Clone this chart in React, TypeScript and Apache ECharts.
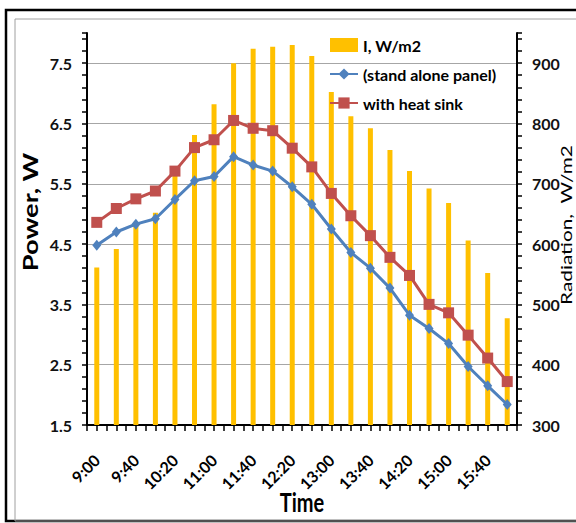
import React, { useEffect, useRef } from "react";
import * as echarts from "echarts";

const times = ["9:00", "9:20", "9:40", "10:00", "10:20", "10:40", "11:00", "11:20", "11:40", "12:00", "12:20", "12:40", "13:00", "13:20", "13:40", "14:00", "14:20", "14:40", "15:00", "15:20", "15:40", "16:00"];
const radiation = [561, 592, 630, 652, 725, 781, 832, 900, 924, 927, 930, 912, 852, 812, 792, 756, 721, 692, 668, 606, 552, 477];
const standAlone = [4.48, 4.7, 4.83, 4.92, 5.24, 5.55, 5.62, 5.95, 5.81, 5.71, 5.45, 5.16, 4.75, 4.36, 4.1, 3.77, 3.32, 3.1, 2.85, 2.47, 2.15, 1.84];
const heatSink = [4.86, 5.09, 5.25, 5.38, 5.71, 6.1, 6.23, 6.55, 6.42, 6.38, 6.09, 5.78, 5.34, 4.97, 4.64, 4.28, 3.98, 3.5, 3.36, 2.99, 2.61, 2.22];
const seriesNames = ["I, W/m2", "(stand alone panel)", "with heat sink"];
const powerRange = [1.5, 8];
const radiationRange = [300, 950];

const FONT = "Lato, 'Open Sans', sans-serif";

export default function App() {
  const ref = useRef<HTMLDivElement>(null);
  useEffect(() => {
    if (!ref.current) return;
    const chart = echarts.init(ref.current, null, { renderer: "svg" });
    const halfTicks = times.length * 2;
    chart.setOption({
      animation: false,
      backgroundColor: "#ffffff",
      textStyle: { fontFamily: FONT },
      grid: { left: 87, right: 59, top: 33, bottom: 98, containLabel: false },
      legend: {
        orient: "vertical",
        left: 324,
        top: 32,
        itemWidth: 28,
        itemHeight: 14,
        itemGap: 13,
        textStyle: { fontFamily: FONT, fontSize: 16, fontWeight: "bold", color: "#000" },
        data: [
          { name: seriesNames[0], icon: "rect" },
          { name: seriesNames[1] },
          { name: seriesNames[2] },
        ],
      },
      xAxis: [
        {
          type: "category",
          data: times,
          boundaryGap: true,
          axisLine: { lineStyle: { color: "#000", width: 2 } },
          axisTick: { show: false },
          axisLabel: {
            interval: 1,
            rotate: 45,
            margin: 32,
            fontFamily: FONT,
            fontSize: 16,
            fontWeight: "bold",
            color: "#000",
          },
          splitLine: { show: false },
        },
        {
          type: "value",
          min: 0,
          max: halfTicks,
          interval: 1,
          position: "bottom",
          axisLine: { show: false },
          axisTick: { show: true, length: 6, lineStyle: { color: "#000", width: 1.5 } },
          axisLabel: { show: false },
          splitLine: { show: false },
        },
      ],
      yAxis: [
        {
          type: "value",
          position: "left",
          min: powerRange[0],
          max: powerRange[1],
          interval: 0.5,
          axisLine: { show: true, lineStyle: { color: "#000", width: 2 } },
          axisTick: { show: false },
          splitLine: { show: false },
          axisLabel: {
            margin: 15,
            fontFamily: FONT,
            fontSize: 16,
            fontWeight: "bold",
            color: "#111",
            formatter: (v: number) => {
              const k = v - powerRange[0];
              if (Math.abs(k - Math.round(k)) < 1e-6 && v < 7.9) return v.toFixed(1);
              return "";
            },
          },
        },
        {
          type: "value",
          position: "right",
          min: radiationRange[0],
          max: radiationRange[1],
          interval: 100,
          axisLine: { show: true, lineStyle: { color: "#000", width: 2 } },
          axisTick: { show: false },
          splitLine: { show: true, showMinLine: false, showMaxLine: false, lineStyle: { color: "#a6a6a6", width: 1 } },
          axisLabel: {
            margin: 15,
            fontFamily: FONT,
            fontSize: 16,
            fontWeight: "bold",
            color: "#111",
            showMaxLabel: false,
            formatter: (v: number) => (v <= 900 ? String(v) : ""),
          },
        },
        {
          type: "value",
          position: "left",
          min: radiationRange[0],
          max: radiationRange[1],
          interval: 20,
          axisLine: { show: false },
          axisTick: { show: true, length: 5, lineStyle: { color: "#000", width: 1.5 } },
          axisLabel: { show: false },
          splitLine: { show: false },
        },
        {
          type: "value",
          position: "right",
          min: radiationRange[0],
          max: radiationRange[1],
          interval: 20,
          axisLine: { show: false },
          axisTick: { show: true, length: 5, lineStyle: { color: "#000", width: 1.5 } },
          axisLabel: { show: false },
          splitLine: { show: false },
        },
      ],
      series: [
        {
          name: seriesNames[0],
          type: "bar",
          xAxisIndex: 0,
          yAxisIndex: 1,
          data: radiation,
          barWidth: 5,
          itemStyle: { color: "#FFC000" },
          z: 1,
        },
        {
          name: seriesNames[1],
          type: "line",
          xAxisIndex: 0,
          yAxisIndex: 0,
          data: standAlone,
          symbol: "diamond",
          symbolSize: [9, 11],
          lineStyle: { color: "#4F81BD", width: 3 },
          itemStyle: { color: "#4F81BD" },
          z: 3,
        },
        {
          name: seriesNames[2],
          type: "line",
          xAxisIndex: 0,
          yAxisIndex: 0,
          data: heatSink,
          symbol: "rect",
          symbolSize: 11,
          lineStyle: { color: "#C0504D", width: 3 },
          itemStyle: { color: "#C0504D" },
          z: 4,
        },
      ],
      graphic: [
        {
          type: "rect",
          silent: true,
          shape: { x: 6, y: 10, width: 620, height: 511 },
          style: { fill: "none", stroke: "#000", lineWidth: 2.5 },
        },
        {
          type: "rect",
          silent: true,
          shape: { x: 15, y: 19, width: 620, height: 502 },
          style: { fill: "none", stroke: "#a0a0a0", lineWidth: 1 },
        },
        {
          type: "text",
          silent: true,
          x: 30,
          y: 212,
          rotation: Math.PI / 2,
          scaleX: 1.3,
          style: {
            text: "Power, W",
            fontFamily: FONT,
            fontSize: 21,
            fontWeight: "bold",
            fill: "#000",
            align: "center",
            verticalAlign: "middle",
          },
        },
        {
          type: "text",
          silent: true,
          x: 566,
          y: 225,
          rotation: Math.PI / 2,
          scaleX: 1.3,
          style: {
            text: "Radiation,  W/m2",
            fontFamily: FONT,
            fontSize: 16,
            fontWeight: "normal",
            fill: "#000",
            align: "center",
            verticalAlign: "middle",
          },
        },
        {
          type: "text",
          silent: true,
          x: 302,
          y: 502,
          scaleY: 1.3,
          style: {
            text: "Time",
            fontFamily: FONT,
            fontSize: 20,
            fontWeight: "bold",
            fill: "#000",
            align: "center",
            verticalAlign: "middle",
          },
        },
      ],
    });
    return () => chart.dispose();
  }, []);
  return (
    <div
      ref={ref}
      style={{ position: "fixed", left: 0, top: 0, width: 576, height: 523, background: "#fff" }}
    />
  );
}
